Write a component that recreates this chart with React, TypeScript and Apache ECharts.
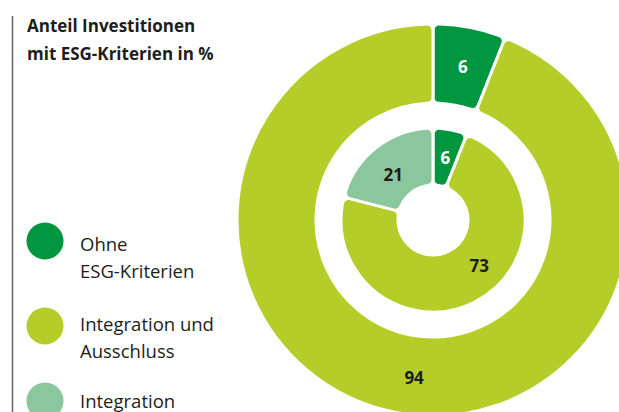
import React, { useEffect, useRef } from "react";
import * as echarts from "echarts";

const titleLines = ["Anteil Investitionen", "mit ESG-Kriterien in %"];
const categories = ["Ohne ESG-Kriterien", "Integration und Ausschluss", "Integration"];
const legendLines = [["Ohne", "ESG-Kriterien"], ["Integration und", "Ausschluss"], ["Integration"]];
const colors = ["#00963f", "#b5cd29", "#8bc79c"];
const outerValues = [6, 94];
const innerValues = [6, 73, 21];

const FONT = "'Open Sans', sans-serif";
const DARK = "#1d1d1b";

export default function App() {
  const ref = useRef<HTMLDivElement>(null);
  useEffect(() => {
    document.body.style.margin = "0";
    const chart = echarts.init(ref.current!, null, { renderer: "svg" });
    const labelBase = {
      show: true,
      position: "inside" as const,
      formatter: "{c}",
      fontFamily: FONT,
      fontWeight: "bold" as const,
      fontSize: 17,
      color: DARK,
    };
    const outerOffsets = [[0, 3], [11, 1]];
    const innerOffsets = [[0, 3], [16, -14], [1, 7]];
    const legendY = [241, 326, 401];
    const legendTextY = [[243, 270], [323, 350], [400]];
    const graphic: any[] = [
      { type: "line", shape: { x1: 12.5, y1: 16, x2: 12.5, y2: 412 }, style: { stroke: "#666", lineWidth: 1.5 } },
      ...titleLines.map((t, i) => ({
        type: "text",
        x: 27,
        y: 25 + i * 28,
        style: { text: t, font: `bold 17px ${FONT}`, fill: DARK, textVerticalAlign: "middle" },
      })),
    ];
    categories.forEach((c, i) => {
      graphic.push({ type: "circle", shape: { cx: 45, cy: legendY[i], r: 18.5 }, style: { fill: colors[i] } });
      legendLines[i].forEach((l, j) => {
        graphic.push({
          type: "text",
          x: 80,
          y: legendTextY[i][j],
          style: { text: l, font: `18.5px ${FONT}`, fill: DARK, textVerticalAlign: "middle" },
        });
      });
    });
    chart.setOption({
      animation: false,
      graphic,
      series: [
        {
          type: "pie",
          center: [433, 220],
          radius: [117, 196],
          startAngle: 90,
          clockwise: true,
          silent: true,
          avoidLabelOverlap: false,
          itemStyle: { borderColor: "#fff", borderWidth: 3, borderRadius: 6 },
          labelLine: { show: false },
          label: labelBase,
          data: outerValues.map((v, i) => ({
            name: categories[i],
            value: v,
            itemStyle: { color: colors[i] },
            label: { offset: outerOffsets[i], color: i === 0 ? "#fff" : DARK },
          })),
        },
        {
          type: "pie",
          center: [433, 220],
          radius: [35, 92],
          startAngle: 90,
          clockwise: true,
          silent: true,
          avoidLabelOverlap: false,
          itemStyle: { borderColor: "#fff", borderWidth: 3, borderRadius: 6 },
          labelLine: { show: false },
          label: labelBase,
          data: innerValues.map((v, i) => ({
            name: categories[i],
            value: v,
            itemStyle: { color: colors[i] },
            label: { offset: innerOffsets[i], color: i === 0 ? "#fff" : DARK },
          })),
        },
      ],
    });
    return () => chart.dispose();
  }, []);
  return <div ref={ref} style={{ width: 619, height: 412 }} />;
}
